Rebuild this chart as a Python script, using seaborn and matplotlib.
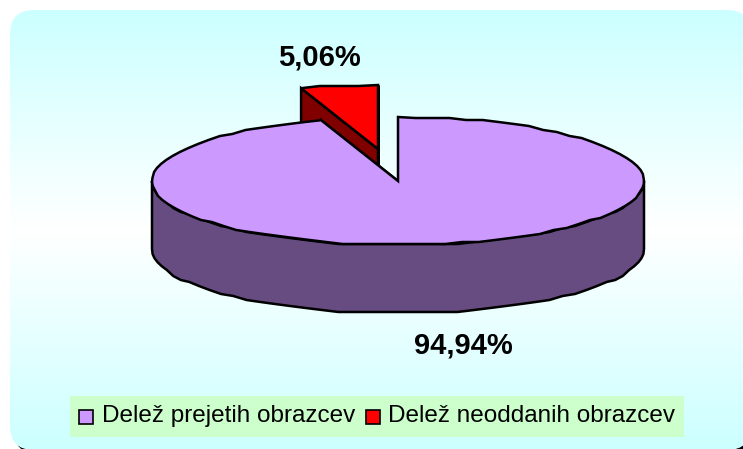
import numpy as np
import matplotlib
matplotlib.use("Agg")
import matplotlib.pyplot as plt
from matplotlib.patches import FancyBboxPatch, Rectangle
import seaborn as sns

# Data
categories = ["Delež prejetih obrazcev", "Delež neoddanih obrazcev"]
shares = [94.94, 5.06]
value_labels = ["94,94%", "5,06%"]

sns.set_theme(style="white")
plt.rcParams["font.family"] = ["Liberation Sans", "DejaVu Sans"]

top_colors = ["#CC99FF", "#FF0000"]
side_colors = ["#664C80", "#800000"]

fig = plt.figure(figsize=(7.43, 4.49), dpi=100)
ax = fig.add_axes([0, 0, 1, 1])
ax.set_xlim(0, 743)
ax.set_ylim(449, 0)
ax.axis("off")

# Rounded background with shadow and gradient
x0, y0, x1, y1, rad = 10, 10, 751, 450, 24
ax.add_patch(FancyBboxPatch((x0 + rad + 4, y0 + rad + 4), x1 - x0 - 2 * rad, y1 - y0 - 2 * rad,
                            boxstyle=f"round,pad={rad},rounding_size={rad}", fc="black", ec="none", zorder=0))
panel = FancyBboxPatch((x0 + rad, y0 + rad), x1 - x0 - 2 * rad, y1 - y0 - 2 * rad,
                       boxstyle=f"round,pad={rad},rounding_size={rad}", fc="none", ec="none", zorder=1)
ax.add_patch(panel)
t = np.abs(np.linspace(-1, 1, 256))[:, None]
grad = np.dstack([1 - 0.2 * t, np.ones_like(t), np.ones_like(t)])
img = ax.imshow(grad, extent=(x0, x1, y1, y0), aspect="auto", zorder=1)
img.set_clip_path(panel)
ax.set_xlim(0, 743)
ax.set_ylim(449, 0)

# Pie geometry (angles clockwise from the top)
cx, cy, rx, ry, depth = 398, 181, 246, 64, 68
steps = 4  # coarse outline, as in the original
snap = 2


def rim(a, b, ox=0, oy=0):
    n = max(2, int(abs(b - a) / np.radians(steps)) + 1)
    th = np.linspace(a, b, n)
    ys = cy - ry * np.cos(th)
    # stepped edge like the low resolution original
    ys[1:-1] = np.round(ys[1:-1] / snap) * snap
    return ox + cx + rx * np.sin(th), oy + ys


def draw_slice(a, b, top, side, ox=0, oy=0, z=3):
    # radial walls
    for ang in (a, b):
        ex, ey = rim(ang, ang, ox, oy)
        xs = [ox + cx, ex[0], ex[0], ox + cx]
        ys = [oy + cy, ey[0], ey[0] + depth, oy + cy + depth]
        ax.fill(xs, ys, fc=side, ec="black", lw=1.8, zorder=z)
    # front wall
    lo, hi = max(a, np.pi / 2), min(b, 3 * np.pi / 2)
    if hi > lo:
        xs, ys = rim(lo, hi, ox, oy)
        ax.fill(np.r_[xs, xs[::-1]], np.r_[ys, ys[::-1] + depth], fc=side, ec="black", lw=1.8, zorder=z)
    # top face
    xs, ys = rim(a, b, ox, oy)
    ax.fill(np.r_[ox + cx, xs], np.r_[oy + cy, ys], fc=top, ec="black", lw=1.8, zorder=z + 0.5)


angles = np.cumsum([0] + shares) / sum(shares) * 2 * np.pi
draw_slice(angles[1], angles[2], top_colors[1], side_colors[1], ox=-20, oy=-32, z=3)
draw_slice(angles[0], angles[1], top_colors[0], side_colors[0], z=4)

# Value labels
ax.text(463, 345, value_labels[0], ha="center", va="center", fontsize=21, fontweight="bold", color="black", zorder=6)
ax.text(319, 58, value_labels[1], ha="center", va="center", fontsize=21, fontweight="bold", color="black", zorder=6)

# Legend
ax.add_patch(Rectangle((70, 396), 614, 41, fc="#CCFFCC", ec="none", zorder=5))
for swatch_x, text_x, color, name in zip([79, 366], [102, 388], top_colors, categories):
    ax.add_patch(Rectangle((swatch_x, 410), 14, 14, fc=color, ec="black", lw=1.2, zorder=6))
    ax.text(text_x, 416, name, ha="left", va="center", fontsize=17.5, color="black", zorder=6)

fig.savefig("out.png", dpi=100)
